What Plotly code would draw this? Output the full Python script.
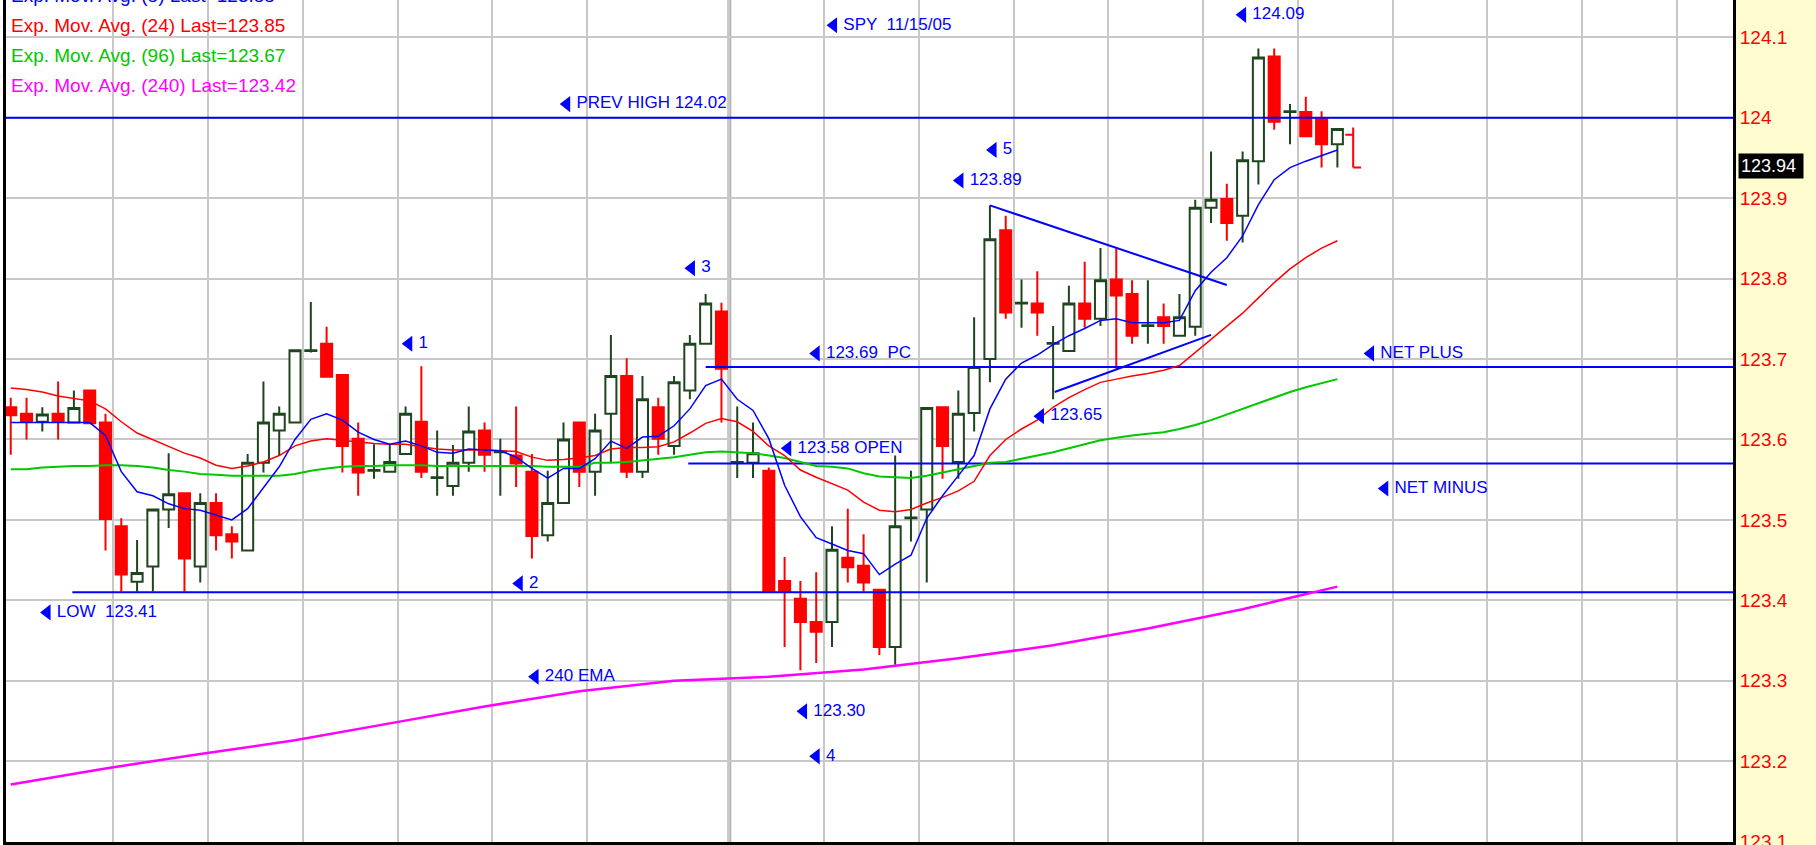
import plotly.graph_objects as go

# ---------------- data ----------------
bars = list(range(85))
opens = [123.640, 123.632, 123.622, 123.632, 123.621, 123.661, 123.621, 123.492, 123.423, 123.442,
         123.513, 123.533, 123.442, 123.521, 123.482, 123.462, 123.571, 123.611, 123.621, 123.710,
         123.719, 123.680, 123.601, 123.561, 123.560, 123.582, 123.622, 123.552, 123.542, 123.571,
         123.611, 123.584, 123.580, 123.560, 123.481, 123.521, 123.621, 123.560, 123.632, 123.679,
         123.560, 123.640, 123.592, 123.661, 123.719, 123.759, 123.571, 123.571, 123.561, 123.424,
         123.402, 123.373, 123.373, 123.453, 123.443, 123.413, 123.342, 123.502, 123.513, 123.640,
         123.572, 123.633, 123.700, 123.860, 123.769, 123.769, 123.719, 123.710, 123.769, 123.750,
         123.799, 123.781, 123.741, 123.752, 123.729, 123.740, 123.888, 123.899, 123.878, 123.946,
         124.076, 124.007, 124.007, 123.998, 123.967]
highs = [123.652, 123.652, 123.640, 123.672, 123.661, 123.661, 123.632, 123.502, 123.475, 123.513,
         123.583, 123.533, 123.533, 123.533, 123.492, 123.582, 123.672, 123.641, 123.711, 123.771,
         123.740, 123.680, 123.621, 123.594, 123.594, 123.641, 123.691, 123.611, 123.593, 123.641,
         123.621, 123.601, 123.641, 123.582, 123.561, 123.621, 123.621, 123.632, 123.730, 123.701,
         123.679, 123.652, 123.679, 123.730, 123.781, 123.770, 123.641, 123.621, 123.565, 123.454,
         123.424, 123.435, 123.492, 123.514, 123.482, 123.413, 123.580, 123.561, 123.639, 123.640,
         123.661, 123.752, 123.891, 123.878, 123.799, 123.809, 123.741, 123.791, 123.821, 123.838,
         123.838, 123.798, 123.798, 123.769, 123.781, 123.898, 123.958, 123.918, 123.958, 124.086,
         124.086, 124.017, 124.026, 124.008, 123.986]
lows = [123.581, 123.600, 123.610, 123.600, 123.621, 123.620, 123.462, 123.411, 123.411, 123.411,
        123.490, 123.411, 123.422, 123.462, 123.452, 123.462, 123.559, 123.580, 123.621, 123.708,
        123.678, 123.559, 123.530, 123.551, 123.560, 123.582, 123.552, 123.530, 123.530, 123.560,
        123.560, 123.530, 123.541, 123.452, 123.473, 123.521, 123.541, 123.530, 123.572, 123.552,
        123.552, 123.581, 123.581, 123.650, 123.719, 123.621, 123.552, 123.552, 123.411, 123.342,
        123.313, 123.322, 123.342, 123.422, 123.411, 123.332, 123.320, 123.473, 123.422, 123.551,
        123.551, 123.610, 123.671, 123.750, 123.739, 123.729, 123.650, 123.710, 123.739, 123.741,
        123.688, 123.719, 123.719, 123.719, 123.729, 123.729, 123.869, 123.847, 123.845, 123.917,
        123.985, 123.967, 123.977, 123.938, 123.938]
closes = [123.630, 123.622, 123.631, 123.622, 123.639, 123.620, 123.501, 123.432, 123.434, 123.513,
          123.532, 123.452, 123.521, 123.481, 123.473, 123.571, 123.621, 123.632, 123.711, 123.711,
          123.678, 123.592, 123.559, 123.562, 123.572, 123.632, 123.560, 123.553, 123.571, 123.610,
          123.581, 123.585, 123.570, 123.480, 123.521, 123.600, 123.560, 123.611, 123.679, 123.560,
          123.650, 123.601, 123.671, 123.719, 123.769, 123.688, 123.572, 123.583, 123.411, 123.411,
          123.373, 123.361, 123.463, 123.441, 123.422, 123.342, 123.492, 123.503, 123.639, 123.592,
          123.632, 123.690, 123.849, 123.758, 123.770, 123.758, 123.720, 123.769, 123.750, 123.798,
          123.779, 123.729, 123.742, 123.741, 123.752, 123.888, 123.898, 123.869, 123.947, 124.075,
          123.995, 124.008, 123.977, 123.967, 123.986]

# bar being formed, drawn as an OHLC bar
live_bar = [85]
live_open, live_high, live_low, live_close = [123.979], [123.988], [123.938], [123.938]

ema8 = [123.621, 123.621, 123.621, 123.621, 123.621, 123.621, 123.605, 123.560, 123.535, 123.530,
        123.520, 123.514, 123.512, 123.506, 123.500, 123.514, 123.540, 123.566, 123.600, 123.625,
        123.632, 123.624, 123.609, 123.600, 123.594, 123.598, 123.592, 123.584, 123.583, 123.588,
        123.587, 123.586, 123.578, 123.564, 123.552, 123.564, 123.564, 123.576, 123.598, 123.589,
        123.603, 123.604, 123.617, 123.638, 123.667, 123.675, 123.650, 123.636, 123.601, 123.543,
        123.504, 123.478, 123.470, 123.462, 123.458, 123.432, 123.445, 123.456, 123.502, 123.530,
        123.555, 123.580, 123.638, 123.675, 123.695, 123.705, 123.718, 123.729, 123.738, 123.748,
        123.750, 123.745, 123.745, 123.745, 123.748, 123.785, 123.808, 123.826, 123.853, 123.892,
        123.923, 123.938, 123.946, 123.953, 123.960]
ema24 = [123.664, 123.662, 123.659, 123.654, 123.651, 123.648, 123.638, 123.622, 123.608, 123.600,
         123.592, 123.583, 123.577, 123.568, 123.564, 123.567, 123.572, 123.580, 123.592, 123.598,
         123.601, 123.599, 123.597, 123.595, 123.594, 123.594, 123.591, 123.588, 123.587, 123.587,
         123.587, 123.586, 123.585, 123.578, 123.574, 123.575, 123.577, 123.580, 123.588, 123.590,
         123.590, 123.591, 123.597, 123.608, 123.620, 123.626, 123.622, 123.610, 123.592, 123.580,
         123.562, 123.553, 123.545, 123.537, 123.522, 123.512, 123.510, 123.513, 123.521, 123.528,
         123.536, 123.548, 123.580, 123.600, 123.613, 123.624, 123.640, 123.652, 123.662, 123.671,
         123.675, 123.679, 123.682, 123.686, 123.692, 123.708, 123.725, 123.740, 123.757, 123.776,
         123.795, 123.812, 123.826, 123.838, 123.847]
ema96 = [123.563, 123.563, 123.565, 123.566, 123.567, 123.567, 123.568, 123.568, 123.567, 123.565,
         123.562, 123.560, 123.557, 123.556, 123.555, 123.555, 123.555, 123.555, 123.557, 123.561,
         123.564, 123.566, 123.567, 123.567, 123.568, 123.568, 123.568, 123.567, 123.567, 123.567,
         123.567, 123.567, 123.567, 123.567, 123.566, 123.566, 123.566, 123.571, 123.571, 123.572,
         123.574, 123.576, 123.578, 123.581, 123.584, 123.585, 123.584, 123.583, 123.580, 123.577,
         123.572, 123.567, 123.566, 123.564, 123.558, 123.554, 123.553, 123.552, 123.555, 123.559,
         123.563, 123.567, 123.571, 123.572, 123.576, 123.580, 123.584, 123.589, 123.594, 123.599,
         123.602, 123.605, 123.607, 123.609, 123.613, 123.618, 123.624, 123.631, 123.638, 123.645,
         123.652, 123.659, 123.665, 123.670, 123.675]
ema240_bars = [0, 6, 12, 18, 24, 30, 36, 42, 48, 54, 60, 66, 72, 78, 84]
ema240 = [123.171, 123.191, 123.209, 123.226, 123.247, 123.268, 123.287, 123.300, 123.305,
          123.314, 123.328, 123.344, 123.365, 123.389, 123.417]

# key levels (blue horizontal lines) and where each one starts
level_price = [124.00, 123.69, 123.57, 123.41]
level_from = [-0.3, 44.0, 42.9, 3.9]

# hand-drawn trendlines
trend_down_x, trend_down_y = [62.0, 77.0], [123.891, 123.792]
trend_up_x, trend_up_y = [66.1, 76.0], [123.659, 123.730]

# chart notes with their arrow anchor
label_text = ["SPY  11/15/05", "PREV HIGH 124.02", "124.09", "5", "123.89", "3", "1",
              "123.69  PC", "NET PLUS", "123.65", "123.58 OPEN", "NET MINUS", "2",
              "LOW  123.41", "240 EMA", "123.30", "4"]
label_bar = [52.1, 35.2, 78.0, 62.2, 60.1, 43.1, 25.2, 51.0, 86.1, 65.2, 49.2, 87.0, 32.2,
             2.3, 33.2, 50.2, 51.0]
label_price = [124.115, 124.017, 124.128, 123.960, 123.922, 123.813, 123.719, 123.707, 123.707,
               123.629, 123.589, 123.539, 123.421, 123.385, 123.305, 123.262, 123.206]

legend_text = ["Exp. Mov. Avg. (8) Last=123.88", "Exp. Mov. Avg. (24) Last=123.85",
               "Exp. Mov. Avg. (96) Last=123.67", "Exp. Mov. Avg. (240) Last=123.42"]
legend_color = ["#0000FF", "#FF0000", "#00C800", "#FF00FF"]
legend_y = [1.005, 0.9697, 0.934, 0.8982]

price_ticks = [123.1, 123.2, 123.3, 123.4, 123.5, 123.6, 123.7, 123.8, 123.9, 124.0, 124.1]
price_tick_text = ["123.1", "123.2", "123.3", "123.4", "123.5", "123.6", "123.7", "123.8",
                   "123.9", "124", "124.1"]
grid_bars = [6.5, 12.5, 18.5, 24.5, 30.5, 36.5, 45.5, 51.5, 57.5, 63.5, 69.5, 75.5, 81.5,
             87.5, 93.5, 99.5, 105.5]
day_break = 45.5
last_price = 123.94

X_RANGE = [-0.3, 109.05]
Y_RANGE = [123.0995, 124.1464]
BLUE = "#0000FF"

# ---------------- figure ----------------
fig = go.Figure()

for p, start in zip(level_price, level_from):
    fig.add_trace(go.Scatter(x=[start, X_RANGE[1] + 1], y=[p, p], mode="lines",
                             line=dict(color=BLUE, width=2), hoverinfo="skip", showlegend=False))

fig.add_trace(go.Scatter(x=ema240_bars, y=ema240, mode="lines",
                         line=dict(color="#FF00FF", width=2.5), showlegend=False))
fig.add_trace(go.Scatter(x=bars, y=ema96, mode="lines",
                         line=dict(color="#00C800", width=2), showlegend=False))
fig.add_trace(go.Scatter(x=bars, y=ema24, mode="lines",
                         line=dict(color="#FF0000", width=1.5), showlegend=False))

fig.add_trace(go.Candlestick(
    x=bars, open=opens, high=highs, low=lows, close=closes,
    increasing=dict(line=dict(color="#1E461E", width=2), fillcolor="#FFFFFF"),
    decreasing=dict(line=dict(color="#FF0000", width=2), fillcolor="#FF0000"),
    whiskerwidth=0, showlegend=False))
fig.add_trace(go.Ohlc(
    x=live_bar, open=live_open, high=live_high, low=live_low, close=live_close,
    increasing=dict(line=dict(color="#FF0000", width=2)),
    decreasing=dict(line=dict(color="#FF0000", width=2)),
    tickwidth=0.5, showlegend=False))

fig.add_trace(go.Scatter(x=bars, y=ema8, mode="lines",
                         line=dict(color=BLUE, width=1.5), showlegend=False))
fig.add_trace(go.Scatter(x=trend_down_x, y=trend_down_y, mode="lines",
                         line=dict(color=BLUE, width=2), showlegend=False))
fig.add_trace(go.Scatter(x=trend_up_x, y=trend_up_y, mode="lines",
                         line=dict(color=BLUE, width=2), showlegend=False))

fig.add_trace(go.Scatter(
    x=label_bar, y=label_price, mode="markers+text", text=label_text,
    textposition="middle right",
    marker=dict(symbol="triangle-left", size=14, color=BLUE),
    textfont=dict(family="Liberation Sans Narrow, Liberation Sans, Arial", size=17, color=BLUE),
    cliponaxis=False, showlegend=False))

# stronger separator at the session open
fig.add_shape(type="line", xref="x", yref="paper", x0=day_break, x1=day_break, y0=0, y1=1,
              line=dict(color="#B4B4B4", width=4), layer="below")
# price-scale panel
fig.add_shape(type="rect", xref="paper", yref="paper", x0=1.001, x1=1.08, y0=-0.01, y1=1.01,
              fillcolor="#FFFDD0", line=dict(width=0), layer="below")

for t, c, yy in zip(legend_text, legend_color, legend_y):
    fig.add_annotation(xref="paper", yref="paper", x=0.0017, y=yy,
                       text=t, showarrow=False, xanchor="left", yanchor="middle",
                       font=dict(family="Liberation Sans, Arial", size=19, color=c))

fig.add_annotation(xref="paper", yref="y", x=1.003, y=last_price, text="123.94 ",
                   showarrow=False, xanchor="left", yanchor="middle", bgcolor="#000000",
                   borderpad=2, font=dict(family="Liberation Sans, Arial", size=18, color="#FFFFFF"))

fig.update_layout(
    width=1816, height=845,
    margin=dict(l=6, r=83, t=0, b=3),
    paper_bgcolor="#FFFFFF", plot_bgcolor="#FFFFFF",
    showlegend=False, hovermode=False,
    boxgap=0.3, boxgroupgap=0,
    xaxis=dict(range=X_RANGE, tickvals=grid_bars, showticklabels=False, ticks="",
               showgrid=True, gridcolor="#C8C8C8", gridwidth=2, zeroline=False,
               showline=True, linecolor="#000000", linewidth=3, automargin=False,
               rangeslider=dict(visible=False)),
    yaxis=dict(range=Y_RANGE, side="right", tickvals=price_ticks, ticktext=price_tick_text,
               tickfont=dict(family="Liberation Sans, Arial", size=19, color="#FF0000"),
               ticklabeloverflow="allow", automargin=False,
               ticks="", showgrid=True, gridcolor="#C8C8C8", gridwidth=2, zeroline=False,
               showline=True, linecolor="#000000", linewidth=3, mirror=True),
)

# drop the page's default body margin so the figure sits at the window's corner
fig.write_html("out.html", config={"displayModeBar": False},
               post_script="document.body.style.margin='0px';")
